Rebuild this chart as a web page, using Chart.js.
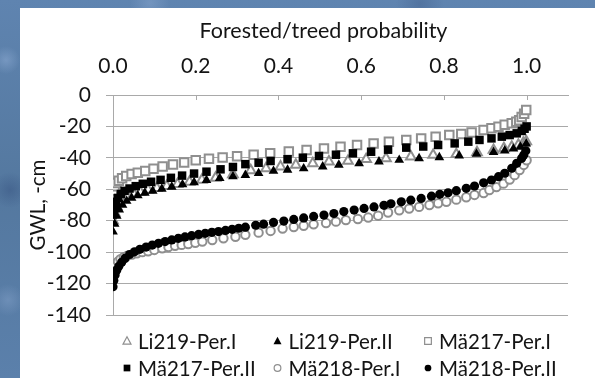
<!DOCTYPE html>
<html>
<head>
<meta charset="utf-8">
<script src="https://cdn.jsdelivr.net/npm/chart.js@4.4.1/dist/chart.umd.min.js"></script>
<style>
  html, body { margin: 0; padding: 0; }
  body {
    width: 595px; height: 378px; overflow: hidden; position: relative;
    background-color: #5a7eab;
    background-image:
      radial-gradient(circle at 6px 60px, rgba(140,170,210,0.55) 0, rgba(140,170,210,0) 14px),
      radial-gradient(circle at 10px 190px, rgba(60,90,135,0.6) 0, rgba(60,90,135,0) 18px),
      radial-gradient(circle at 8px 300px, rgba(130,160,200,0.5) 0, rgba(130,160,200,0) 16px),
      radial-gradient(circle at 150px 3px, rgba(135,165,205,0.5) 0, rgba(135,165,205,0) 20px),
      radial-gradient(circle at 420px 4px, rgba(70,100,145,0.5) 0, rgba(70,100,145,0) 24px),
      linear-gradient(180deg, #5f84b0 0%, #54789f 50%, #5b80ab 100%);
  }
  #panel { position: absolute; left: 20px; top: 8px; width: 575px; height: 370px; background: #ffffff; }
  canvas { display: block; }
</style>
</head>
<body>
<div id="panel"><canvas id="chart" width="575" height="370"></canvas></div>
<script>
// Probability of forested/treed class versus groundwater level (GWL, -cm)
const xAxisTitle = 'Forested/treed probability';
const yAxisTitle = 'GWL, -cm';
const seriesNames = ['Li219-Per.I', 'Li219-Per.II', 'Mä217-Per.I', 'Mä217-Per.II', 'Mä218-Per.I', 'Mä218-Per.II'];

const li219PerI_x = [0.000, 0.004, 0.009, 0.016, 0.025, 0.036, 0.050, 0.066, 0.085, 0.106, 0.130, 0.156, 0.185, 0.215, 0.248, 0.290, 0.333, 0.370, 0.405, 0.442, 0.483, 0.522, 0.568, 0.612, 0.660, 0.720, 0.774, 0.830, 0.880, 0.920, 0.945, 0.964, 0.980, 0.992, 0.999];
const li219PerI_y = [-80, -75, -71, -68, -66, -64.5, -63, -61.8, -60.5, -59.3, -58, -56.7, -55.3, -54, -52.8, -50.5, -48, -46.7, -45.6, -44.5, -43.5, -42.4, -42, -40.9, -40.3, -39.2, -38.2, -37.7, -36.5, -35, -34, -33, -31.8, -30.5, -29.5];

const li219PerII_x = [0.000, 0.004, 0.009, 0.015, 0.023, 0.033, 0.045, 0.060, 0.077, 0.096, 0.118, 0.142, 0.168, 0.196, 0.226, 0.258, 0.290, 0.320, 0.352, 0.388, 0.422, 0.461, 0.507, 0.546, 0.595, 0.643, 0.692, 0.740, 0.789, 0.837, 0.879, 0.920, 0.947, 0.968, 0.985, 0.999];
const li219PerII_y = [-87, -82, -77, -73, -70, -67.5, -65.5, -64, -62.3, -61, -59.8, -58.5, -57, -55.6, -54.2, -52.9, -51.8, -51, -49.8, -48.4, -47.7, -46.8, -45.6, -44.5, -43.5, -42.4, -41.4, -40.3, -39.7, -38.6, -37.5, -36.4, -35.4, -34.2, -33, -31];

const ma217PerI_x = [0.000, 0.004, 0.008, 0.014, 0.022, 0.032, 0.045, 0.060, 0.078, 0.098, 0.120, 0.145, 0.172, 0.200, 0.232, 0.265, 0.300, 0.340, 0.380, 0.425, 0.468, 0.510, 0.550, 0.590, 0.630, 0.667, 0.709, 0.745, 0.780, 0.813, 0.842, 0.867, 0.896, 0.915, 0.932, 0.947, 0.964, 0.975, 0.982, 0.988, 0.994, 0.999];
const ma217PerI_y = [-61, -58, -56, -54.5, -53, -51.5, -50.3, -49.5, -48.3, -47, -45.5, -44.2, -43, -41.5, -40.5, -39.8, -39, -38, -37, -36, -35, -34, -33, -31.8, -30.8, -29.7, -28.6, -27.6, -26.5, -25.5, -24.8, -23.8, -22.3, -21.2, -20.2, -19, -18, -17, -16, -14, -12, -9.5];

const ma217PerII_x = [0.000, 0.003, 0.007, 0.012, 0.019, 0.028, 0.040, 0.055, 0.072, 0.092, 0.115, 0.140, 0.167, 0.196, 0.226, 0.260, 0.290, 0.320, 0.352, 0.381, 0.422, 0.459, 0.498, 0.539, 0.580, 0.624, 0.665, 0.709, 0.750, 0.786, 0.826, 0.859, 0.886, 0.915, 0.940, 0.959, 0.976, 0.988, 0.995, 1.000];
const ma217PerII_y = [-76, -72, -68, -65.5, -63, -61, -59.5, -58, -56.5, -55.2, -54, -52.7, -51.3, -50, -48.8, -47.3, -45.8, -44, -43.1, -42, -40.9, -39.9, -38.8, -38, -37.1, -36.1, -34.8, -33.5, -32.8, -31.8, -30.8, -29.7, -28.6, -27.6, -26.5, -25.5, -24.4, -22.9, -21.5, -20];

const ma218PerI_x = [0.000, 0.003, 0.007, 0.012, 0.018, 0.026, 0.035, 0.046, 0.058, 0.071, 0.085, 0.100, 0.119, 0.134, 0.150, 0.166, 0.182, 0.199, 0.216, 0.240, 0.267, 0.296, 0.320, 0.352, 0.381, 0.410, 0.437, 0.461, 0.485, 0.515, 0.539, 0.563, 0.592, 0.617, 0.641, 0.665, 0.692, 0.716, 0.740, 0.765, 0.786, 0.806, 0.830, 0.854, 0.874, 0.896, 0.910, 0.927, 0.944, 0.959, 0.971, 0.983, 0.993, 1.000];
const ma218PerI_y = [-113, -110, -107.5, -106, -104.5, -103.2, -102.2, -101.5, -100.7, -100, -99.5, -98.6, -97.6, -96.8, -95.9, -95.4, -94.8, -94, -93.3, -92.3, -91.2, -90.2, -89, -87.6, -86.5, -85, -84, -83.2, -82.3, -81.5, -80.6, -79.6, -78.9, -78, -76.8, -74.8, -73.4, -72.3, -71.2, -70, -68.9, -67.9, -66.6, -65.1, -63.6, -62.4, -60.5, -58.6, -56.4, -53.8, -51, -47.7, -44.5, -41.5];

const ma218PerII_x = [0.000, 0.002, 0.005, 0.009, 0.014, 0.021, 0.029, 0.040, 0.052, 0.065, 0.080, 0.095, 0.110, 0.126, 0.142, 0.158, 0.174, 0.190, 0.207, 0.223, 0.239, 0.255, 0.272, 0.288, 0.304, 0.320, 0.345, 0.364, 0.388, 0.413, 0.437, 0.461, 0.485, 0.510, 0.534, 0.558, 0.583, 0.607, 0.631, 0.655, 0.672, 0.697, 0.720, 0.745, 0.770, 0.790, 0.810, 0.830, 0.854, 0.874, 0.896, 0.915, 0.932, 0.947, 0.964, 0.976, 0.988, 0.993, 0.998];
const ma218PerII_y = [-122, -118, -114.5, -111.5, -109, -106.5, -104, -101.5, -99.8, -98.2, -96.8, -95.5, -94.4, -93.3, -92.2, -91.2, -90.3, -89.5, -88.7, -88, -87.4, -86.9, -86.2, -85.5, -84.8, -84.1, -82.9, -82.2, -81.1, -80.2, -79.2, -78.2, -77.3, -76.4, -75.4, -74.2, -73.2, -72.2, -71.2, -70.2, -69.2, -68, -66.9, -65.8, -64.4, -63.2, -62.2, -60.9, -59.4, -57.9, -55.9, -54.1, -52, -49.8, -46.6, -43.5, -40.3, -38.2, -35.5];

const xTicksMin = 0, xTicksMax = 1.1, xTickStep = 0.2;
const yTicksMin = -140, yTicksMax = 0, yTickStep = 20;

const GRAY = '#8f8f8f';
const BLACK = '#000000';
const GRID = '#a9a9a9';
const TEXT = '#141414';
const FONT = 'Lato, "Open Sans", sans-serif';

function pairs(xs, ys) { return xs.map((x, i) => ({ x: x, y: ys[i] })); }

// marker styles per series: [pointStyle, filled, colour, radius]
const markerStyles = [
  ['triangle', false, GRAY, 5.6],
  ['triangle', true, BLACK, 5.6],
  ['rect', false, GRAY, 6.0],
  ['rect', true, BLACK, 6.0],
  ['circle', false, GRAY, 4.2],
  ['circle', true, BLACK, 4.6]
];
const seriesData = [
  pairs(li219PerI_x, li219PerI_y),
  pairs(li219PerII_x, li219PerII_y),
  pairs(ma217PerI_x, ma217PerI_y),
  pairs(ma217PerII_x, ma217PerII_y),
  pairs(ma218PerI_x, ma218PerI_y),
  pairs(ma218PerII_x, ma218PerII_y)
];

const datasets = seriesNames.map((name, i) => {
  const [style, filled, colour, r] = markerStyles[i];
  return {
    label: name,
    data: seriesData[i],
    showLine: false,
    pointStyle: style,
    pointRadius: r,
    pointHoverRadius: r,
    pointBackgroundColor: filled ? colour : '#ffffff',
    pointBorderColor: colour,
    pointBorderWidth: filled ? 0 : 2,
    order: seriesNames.length - i   // later series are painted on top
  };
});

// small legend symbol
function drawSymbol(ctx, style, filled, colour, x, y, s) {
  ctx.save();
  ctx.beginPath();
  if (style === 'triangle') {
    ctx.moveTo(x, y - s);
    ctx.lineTo(x + s * 0.95, y + s * 0.75);
    ctx.lineTo(x - s * 0.95, y + s * 0.75);
    ctx.closePath();
  } else if (style === 'rect') {
    ctx.rect(x - s * 0.8, y - s * 0.8, s * 1.6, s * 1.6);
  } else {
    ctx.arc(x, y, s * 0.8, 0, Math.PI * 2);
  }
  if (filled) { ctx.fillStyle = colour; ctx.fill(); }
  else { ctx.fillStyle = '#fff'; ctx.fill(); ctx.strokeStyle = colour; ctx.lineWidth = 1.2; ctx.stroke(); }
  ctx.restore();
}

const decorations = {
  id: 'decorations',
  beforeDatasetsDraw(chart) {
    const { ctx, chartArea, scales } = chart;
    const xs = scales.x;
    ctx.save();
    ctx.strokeStyle = GRID;
    ctx.lineWidth = 1;
    xs.ticks.forEach(t => {
      const px = Math.round(xs.getPixelForValue(t.value)) + 0.5;
      ctx.beginPath();
      ctx.moveTo(px, chartArea.top);
      ctx.lineTo(px, chartArea.top + 5);
      ctx.stroke();
    });
    ctx.restore();
  },
  afterDraw(chart) {
    const { ctx, chartArea } = chart;
    ctx.save();
    ctx.fillStyle = TEXT;
    ctx.font = '21.5px ' + FONT;
    ctx.textAlign = 'center';
    ctx.textBaseline = 'middle';
    ctx.fillText(xAxisTitle, chart.width / 2 + 16, 23);

    // legend: three columns, two rows
    ctx.textAlign = 'left';
    ctx.font = '20.5px ' + FONT;
    chart.data.datasets.forEach((ds, i) => {
      const col = i % 3, row = Math.floor(i / 3);
      const mx = chartArea.left + 14 + col * 150.5;
      const my = chartArea.bottom + 26 + row * 27;
      const [style, filled, colour] = markerStyles[i];
      drawSymbol(ctx, style, filled, colour, mx, my, 4.2);
      ctx.fillStyle = TEXT;
      ctx.fillText(ds.label, mx + 11, my + 1);
    });
    ctx.restore();
  }
};

new Chart(document.getElementById('chart'), {
  type: 'scatter',
  data: { datasets: datasets },
  plugins: [decorations],
  options: {
    responsive: false,
    animation: false,
    devicePixelRatio: 1,
    layout: { padding: { left: 0, right: 27, top: 0, bottom: 63 } },
    plugins: { legend: { display: false }, tooltip: { enabled: false }, title: { display: false } },
    scales: {
      x: {
        type: 'linear',
        position: 'top',
        min: xTicksMin,
        max: xTicksMax,
        afterFit(scale) { scale.height = 87; },
        grid: { display: true, drawOnChartArea: false, drawTicks: false, color: GRID },
        border: { display: true, color: GRID, width: 1 },
        ticks: {
          stepSize: xTickStep,
          includeBounds: false,
          padding: 16,
          color: TEXT,
          font: { family: FONT, size: 21 },
          maxRotation: 0,
          callback: v => v.toFixed(1)
        }
      },
      y: {
        type: 'linear',
        min: yTicksMin,
        max: yTicksMax,
        afterFit(scale) { scale.width = 93; },
        grid: { color: GRID, lineWidth: 1, tickLength: 7, drawTicks: true },
        border: { display: true, color: GRID, width: 1 },
        ticks: {
          stepSize: yTickStep,
          padding: 15,
          color: TEXT,
          font: { family: FONT, size: 21 }
        },
        title: {
          display: true,
          text: yAxisTitle,
          color: TEXT,
          font: { family: FONT, size: 20.5 },
          padding: { top: 5.7, bottom: 0 }
        }
      }
    }
  }
});
</script>
</body>
</html>
